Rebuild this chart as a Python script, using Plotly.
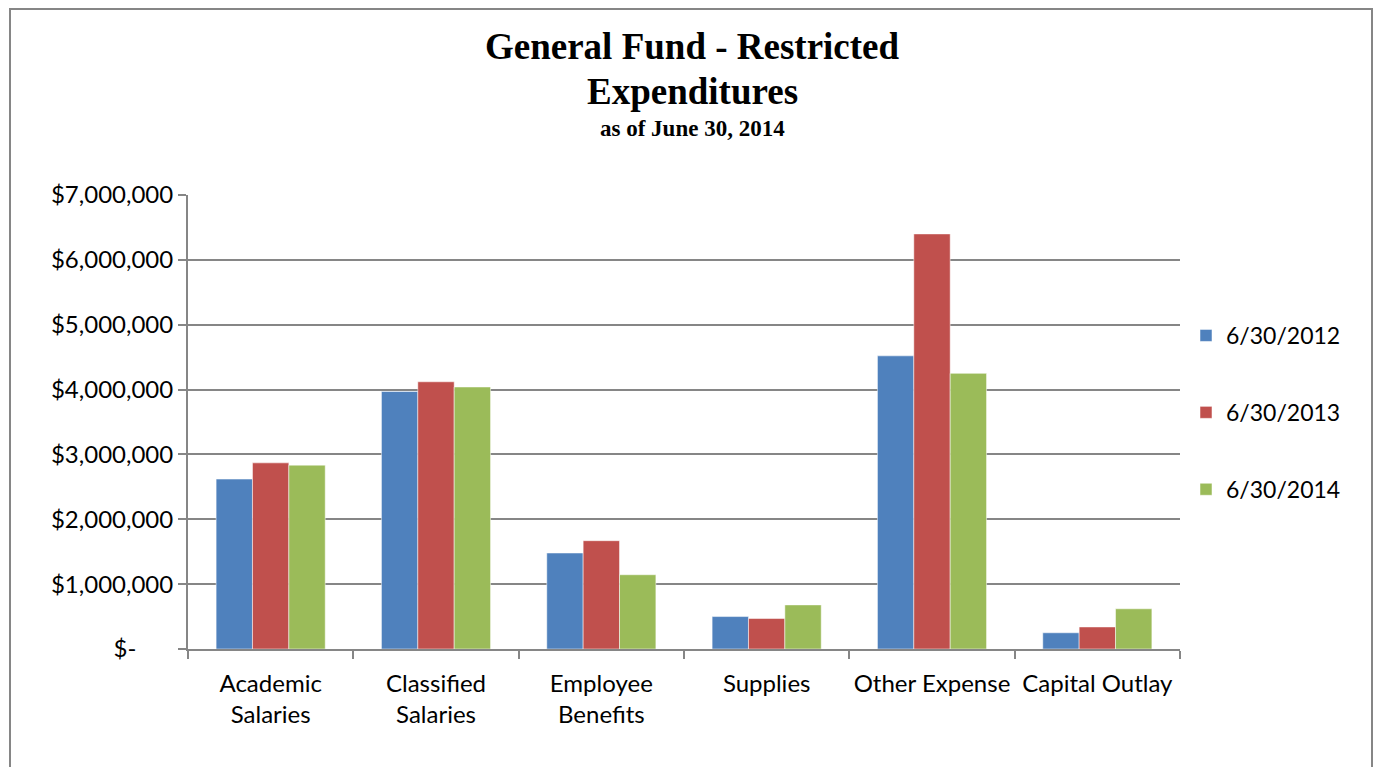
import plotly.graph_objects as go

categories = ["Academic<br>Salaries", "Classified<br>Salaries", "Employee<br>Benefits",
              "Supplies", "Other Expense", "Capital Outlay"]
series_names = ["6/30/2012", "6/30/2013", "6/30/2014"]
values_2012 = [2620000, 3970000, 1480000, 500000, 4520000, 250000]
values_2013 = [2870000, 4120000, 1670000, 470000, 6400000, 340000]
values_2014 = [2835000, 4040000, 1145000, 680000, 4250000, 620000]
colors = ["#4F81BD", "#C0504D", "#9BBB59"]
y_tickvals = [0, 1000000, 2000000, 3000000, 4000000, 5000000, 6000000, 7000000]
y_ticktext = ["$-" + "\u00a0" * 6, "$1,000,000", "$2,000,000", "$3,000,000", "$4,000,000",
              "$5,000,000", "$6,000,000", "$7,000,000"]

OFF = 8  # page body margin
W, H = 1383 - 2 * OFF, 767 - OFF
L, R, T, B = 188 - OFF, 1180 - OFF, 195 - OFF, 649 - OFF

def px(x):
    return (x - OFF - L) / (R - L)

def py(y):
    return (B - (y - OFF)) / (B - T)

fig = go.Figure()
for name, vals, col in zip(series_names, [values_2012, values_2013, values_2014], colors):
    fig.add_trace(go.Bar(
        x=categories, y=vals, name=name, legendgroup=name,
        marker=dict(color=col, line=dict(color="rgba(255,255,255,0.5)", width=1)),
    ))

grey = "#868686"
fig.update_layout(
    width=W, height=H,
    margin=dict(l=L, r=W - R, t=T, b=H - B),
    paper_bgcolor="white", plot_bgcolor="white",
    barmode="group", bargap=0.34, bargroupgap=0,
    font=dict(family="Lato", size=24, color="black"),
    showlegend=True,
    legend=dict(x=px(1186), y=py(314), xanchor="left", yanchor="top",
                font=dict(family="Lato", size=23, color="black"),
                traceorder="grouped", tracegroupgap=44,
                bgcolor="rgba(0,0,0,0)"),
    xaxis=dict(showline=True, linecolor=grey, linewidth=2, automargin=False,
               ticks="outside", ticklen=8, tickwidth=2, tickcolor=grey,
               tickson="boundaries", showgrid=False, ticklabelstandoff=12,
               tickangle=0,
               tickfont=dict(family="Lato", size=24, color="black")),
    yaxis=dict(range=[0, 7000000], tickvals=y_tickvals, ticktext=y_ticktext,
               showline=True, linecolor=grey, linewidth=2, automargin=False,
               ticks="outside", ticklen=8, tickwidth=2, tickcolor=grey,
               showgrid=True, gridcolor=grey, gridwidth=2, zeroline=False,
               tickfont=dict(family="Lato", size=24, color="black")),
    shapes=[dict(type="rect", xref="paper", yref="paper",
                 x0=px(10), x1=px(1372), y0=py(790), y1=py(9),
                 line=dict(color=grey, width=2), fillcolor="rgba(0,0,0,0)",
                 layer="below")],
    annotations=[
        dict(text="<b>General Fund - Restricted</b>", x=px(692), y=py(47),
             xref="paper", yref="paper", showarrow=False, xanchor="center", yanchor="middle",
             font=dict(family="Liberation Serif", size=37, color="black")),
        dict(text="<b>Expenditures</b>", x=px(692), y=py(92),
             xref="paper", yref="paper", showarrow=False, xanchor="center", yanchor="middle",
             font=dict(family="Liberation Serif", size=37, color="black")),
        dict(text="<b>as of June 30, 2014</b>", x=px(692), y=py(128),
             xref="paper", yref="paper", showarrow=False, xanchor="center", yanchor="middle",
             font=dict(family="Liberation Serif", size=23, color="black")),
    ],
)

fig.write_html("out.html")
